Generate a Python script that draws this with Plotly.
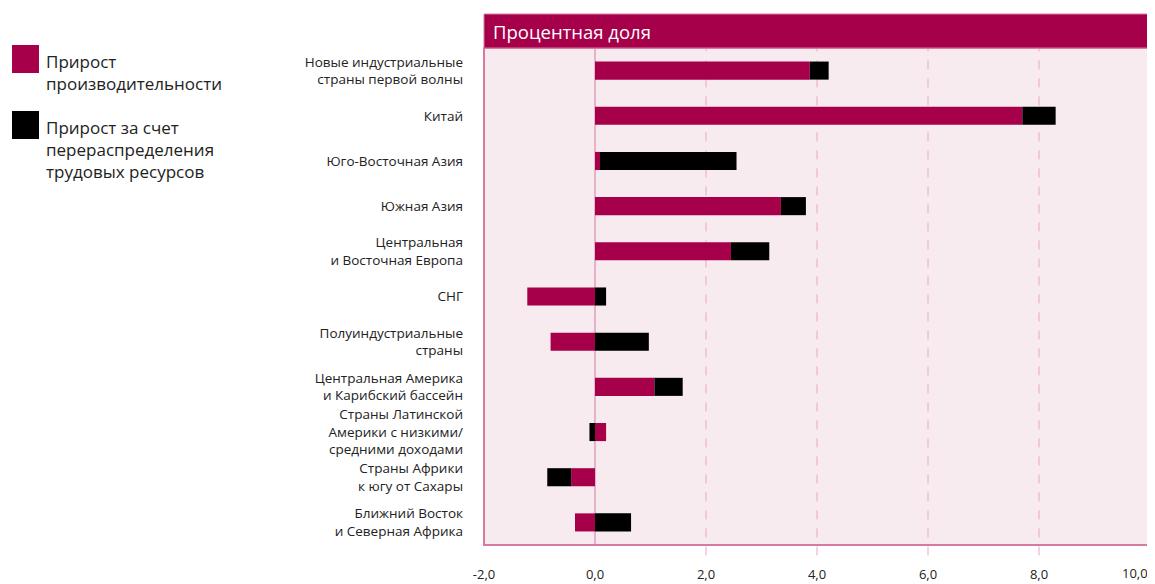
import plotly.graph_objects as go

categories = [
    "Новые индустриальные<br>страны первой волны",
    "Китай",
    "Юго-Восточная Азия",
    "Южная Азия",
    "Центральная<br>и Восточная Европа",
    "СНГ",
    "Полуиндустриальные<br>страны",
    "Центральная Америка<br>и Карибский бассейн",
    "Страны Латинской<br>Америки с низкими/<br>средними доходами",
    "Страны Африки<br>к югу от Сахары",
    "Ближний Восток<br>и Северная Африка",
]
productivity = [3.87, 7.70, 0.09, 3.35, 2.45, -1.22, -0.80, 1.07, 0.20, -0.43, -0.36]
reallocation = [0.34, 0.60, 2.46, 0.45, 0.69, 0.20, 0.97, 0.51, -0.10, -0.43, 0.65]
tick_vals = [-2, 0, 2, 4, 6, 8, 10]
tick_text = ["-2,0", "0,0", "2,0", "4,0", "6,0", "8,0", "10,0"]
grid_vals = [2, 4, 6, 8]
legend_texts = ["Прирост<br>производительности",
                "Прирост за счет<br>перераспределения<br>трудовых ресурсов"]

MAG = "#a6004a"
FRAME = "#d57aa0"
TXT = "#222222"
FONT = "Open Sans"

fig = go.Figure()
fig.add_trace(go.Bar(y=categories, x=productivity, orientation="h", width=0.4,
                     marker=dict(color=MAG, line=dict(width=0)), name=legend_texts[0]))
fig.add_trace(go.Bar(y=categories, x=reallocation, orientation="h", width=0.4,
                     marker=dict(color="#000000", line=dict(width=0)), name=legend_texts[1]))

shapes = []
for g in grid_vals:
    shapes.append(dict(type="line", xref="x", yref="paper", x0=g, x1=g, y0=-0.021, y1=1,
                       line=dict(color="#eaa6c0", width=1, dash="dash"), layer="below"))
shapes.append(dict(type="line", xref="x", yref="paper", x0=0, x1=0, y0=0, y1=1,
                   line=dict(color=FRAME, width=1), layer="below"))
shapes.append(dict(type="rect", xref="paper", yref="paper", x0=0, x1=1, y0=0, y1=1,
                   line=dict(color=FRAME, width=2), fillcolor="rgba(0,0,0,0)", layer="above"))
shapes.append(dict(type="rect", xref="paper", yref="paper", x0=0, x1=1, y0=1, y1=1 + 34 / 497,
                   line=dict(color=FRAME, width=1), fillcolor=MAG, layer="above"))

# page offset of the plot div is 8px (body margin); helpers use page pixel coords
pw, ph = 666, 497
def px_x(x):
    return (x - 484) / pw
def px_y(y):
    return (545 - y) / ph

shapes.append(dict(type="rect", xref="paper", yref="paper", x0=px_x(12), x1=px_x(39),
                   y0=px_y(73), y1=px_y(45), fillcolor=MAG, line=dict(width=0)))
shapes.append(dict(type="rect", xref="paper", yref="paper", x0=px_x(12), x1=px_x(39),
                   y0=px_y(139), y1=px_y(111), fillcolor="#000000", line=dict(width=0)))

annotations = [dict(text="Процентная доля", xref="paper", yref="paper", x=px_x(491), y=px_y(31),
                    xanchor="left", yanchor="middle", showarrow=False,
                    font=dict(family=FONT, size=18.5, color="white"))]
for t, yy in zip(legend_texts, [72.5, 149]):
    annotations.append(dict(text=t, xref="paper", yref="paper", x=px_x(44), y=px_y(yy),
                            xanchor="left", yanchor="middle", align="left", showarrow=False,
                            font=dict(family=FONT, size=17, color=TXT)))
# last tick label right-aligned so it stays inside the page
annotations.append(dict(text=tick_text[-1], xref="x", yref="paper", x=tick_vals[-1], y=px_y(573),
                        xanchor="right", yanchor="middle", showarrow=False,
                        font=dict(family=FONT, size=13, color=TXT)))

fig.update_layout(
    width=1147, height=576,
    margin=dict(l=476, r=5, t=40, b=39, autoexpand=False),
    barmode="relative",
    paper_bgcolor="white",
    plot_bgcolor="#f8ebf0",
    showlegend=False,
    shapes=shapes,
    annotations=annotations,
    xaxis=dict(range=[-2, 10], tickvals=tick_vals[:-1], ticktext=tick_text[:-1], showgrid=False,
               zeroline=False, showline=False, ticks="", ticklabelstandoff=20,
               ticklabeloverflow="allow", automargin=False,
               tickfont=dict(family=FONT, size=13, color=TXT)),
    yaxis=dict(autorange="reversed", showgrid=False, zeroline=False, showline=False, ticks="",
               ticklabelstandoff=20, automargin=False,
               tickfont=dict(family=FONT, size=13.5, color=TXT)),
    bargap=0.6,
)
fig.write_html("out.html")
